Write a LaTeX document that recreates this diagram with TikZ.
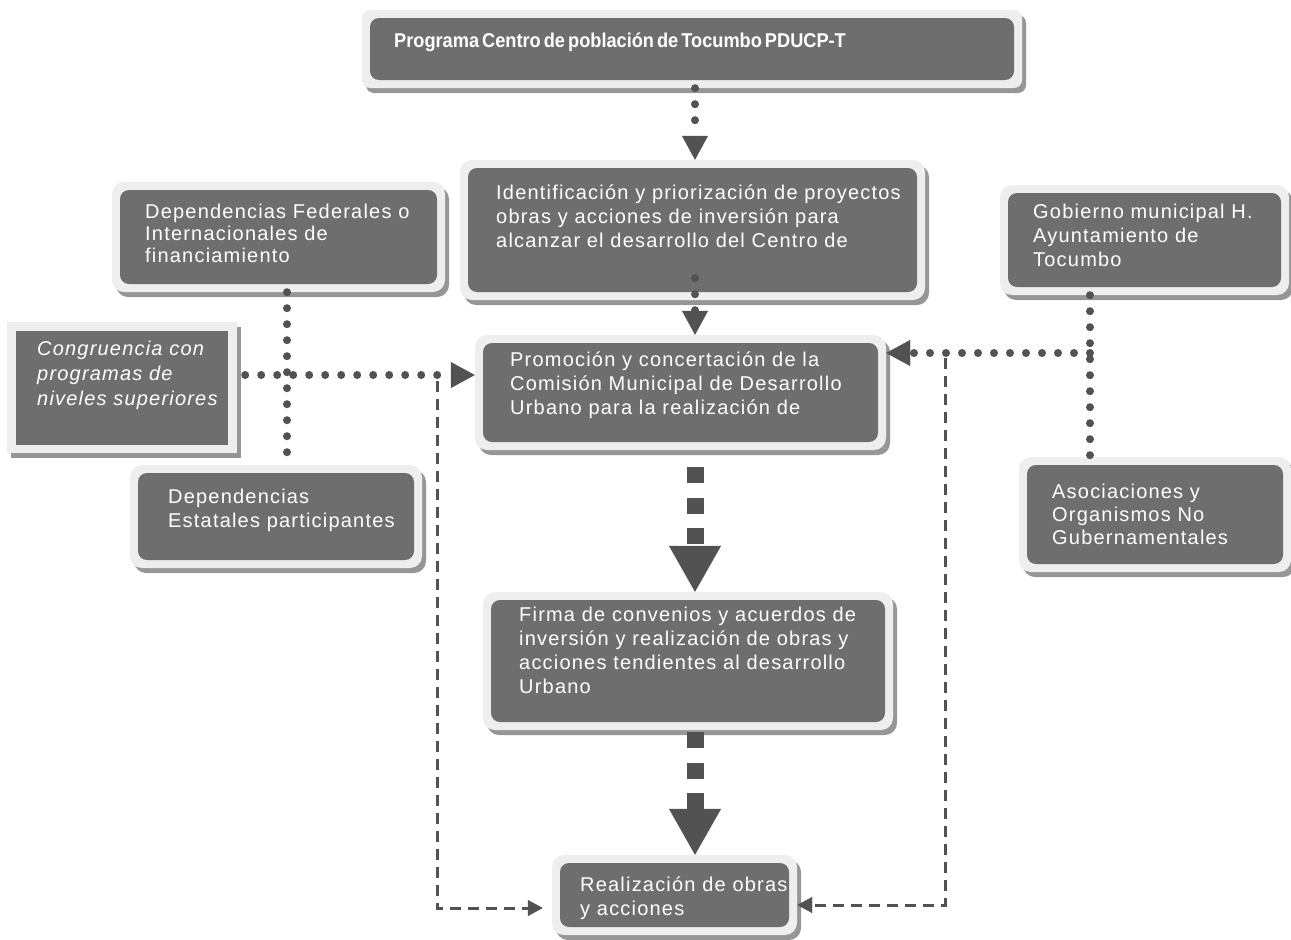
\documentclass[tikz,border=0pt]{standalone}
\usepackage{fontspec}
\setmainfont{Liberation Sans}
\newfontfamily\boxfont{Liberation Sans}[LetterSpace=6]
\newfontfamily\titlefont{Liberation Sans}[WordSpace=0.6,FakeStretch=0.91]
\usetikzlibrary{arrows.meta,calc,shadows}
\definecolor{boxgrey}{RGB}{110,110,110}
\definecolor{rimgrey}{RGB}{238,238,238}
\definecolor{linkgrey}{RGB}{82,82,82}
\definecolor{shadowgrey}{RGB}{150,150,150}
\tikzset{
  darkbox/.style={fill=rimgrey,rounded corners=12pt,inner sep=0pt,
    drop shadow={shadow xshift=4pt,shadow yshift=-5pt,fill=shadowgrey,
      opacity=1},
    path picture={\fill[boxgrey,rounded corners=9pt]
      ([shift={(8pt,-8pt)}]path picture bounding box.north west) rectangle
      ([shift={(-8pt,8pt)}]path picture bounding box.south east);}},
  flatbox/.style={fill=rimgrey,inner sep=0pt,
    drop shadow={shadow xshift=4pt,shadow yshift=-5pt,fill=shadowgrey,
      opacity=1},
    path picture={\fill[boxgrey]
      ([shift={(9pt,-9pt)}]path picture bounding box.north west) rectangle
      ([shift={(-9pt,8pt)}]path picture bounding box.south east);}},
  boxtext/.style={text=white,align=left,anchor=north west,inner sep=0pt,
    font=\boxfont\fontsize{20}{24}\selectfont},
  titletext/.style={text=white,anchor=north west,inner sep=0pt,
    font=\titlefont\bfseries\fontsize{20}{24}\selectfont},
  dotlink/.style={draw=linkgrey,line width=8pt,line cap=round,
    dash pattern=on 0pt off 16pt},
  dotflow/.style={dotlink,
    -{Triangle[length=24pt,width=26pt,line width=0.4pt]}},
  blockflow/.style={draw=linkgrey,line width=17pt,
    dash pattern=on 16pt off 14.5pt,
    -{Triangle[length=46pt,width=52pt,line width=0.4pt]}},
  dashflow/.style={draw=linkgrey,line width=3pt,dash pattern=on 11pt off 7pt,
    -{Triangle[length=15pt,width=16pt,line width=0.4pt]}}
}

\begin{document}
\begin{tikzpicture}[x=1pt,y=-1pt]
  \useasboundingbox (0,0) rectangle (1291,940);
  % boxes
  \node[darkbox,rounded corners=8pt,minimum width=660pt,minimum height=78pt]
    (prog) at (692,49) {};
  \node[darkbox,minimum width=465pt,minimum height=140pt]
    (ident) at (692.5,230) {};
  \node[darkbox,minimum width=333pt,minimum height=110pt]
    (fed) at (278.5,237) {};
  \node[darkbox,minimum width=289pt,minimum height=110pt]
    (gob) at (1144.5,240) {};
  \node[flatbox,minimum width=230pt,minimum height=131pt]
    (cong) at (122,387.5) {};
  \node[darkbox,minimum width=411pt,minimum height=115pt]
    (prom) at (680.5,392.5) {};
  \node[darkbox,minimum width=292pt,minimum height=103pt]
    (est) at (276,516.5) {};
  \node[darkbox,minimum width=272pt,minimum height=115pt]
    (asoc) at (1155,514.5) {};
  \node[darkbox,minimum width=410pt,minimum height=138pt]
    (firma) at (688,661) {};
  \node[darkbox,minimum width=245pt,minimum height=80pt]
    (real) at (674.5,895) {};
  % texts
  \node[titletext] (prog-t) at (394,33)
    {Programa Centro de población de Tocumbo PDUCP-T};
  \node[boxtext] (ident-t) at (496,185)
    {Identificación y priorización de proyectos\\
     obras y acciones de inversión para\\
     alcanzar el desarrollo del Centro de};
  \node[boxtext,font=\boxfont\fontsize{20}{22}\selectfont] (fed-t) at (145,204)
    {Dependencias Federales o\\Internacionales de\\financiamiento};
  \node[boxtext] (gob-t) at (1033,204)
    {Gobierno municipal H.\\Ayuntamiento de\\Tocumbo};
  \node[boxtext,font=\boxfont\itshape\fontsize{20}{25}\selectfont] (cong-t)
    at (37,341) {Congruencia con\\programas de\\niveles superiores};
  \node[boxtext] (prom-t) at (510,352)
    {Promoción y concertación de la\\Comisión Municipal de Desarrollo\\
     Urbano para la realización de};
  \node[boxtext] (est-t) at (168,489)
    {Dependencias\\Estatales participantes};
  \node[boxtext,font=\boxfont\fontsize{20}{23}\selectfont] (asoc-t)
    at (1052,484) {Asociaciones y\\Organismos No\\Gubernamentales};
  \node[boxtext] (firma-t) at (519,607)
    {Firma de convenios y acuerdos de\\
     inversión y realización de obras y\\
     acciones tendientes al desarrollo\\Urbano};
  \node[boxtext] (real-t) at (580,877)
    {Realización de obras\\y acciones};
  % helper coordinates
  \coordinate (axis) at (695,0);
  \coordinate (fedline) at (287,0);
  \coordinate (gobline) at (1090,0);
  \coordinate (congrow) at (0,375);
  \coordinate (gobjoin) at (1090,353);
  \coordinate (leftdrop) at (437,381);
  \coordinate (leftfoot) at (0,908);
  \coordinate (rightdrop) at (945,358);
  \coordinate (rightfoot) at (0,905);
  % connectors
  \draw[dotflow] (prog.south -| axis) -- (ident.north -| axis);
  \draw[dotflow,shorten <=-22pt] (ident.south -| axis) -- (prom.north -| axis);
  \draw[blockflow,shorten <=17pt] (prom.south -| axis) -- (firma.north -| axis);
  \draw[blockflow,shorten <=2pt] (firma.south -| axis) -- (real.north -| axis);
  \draw[dotlink] (fed.south -| fedline) -- (est.north -| fedline);
  \draw[dotflow,shorten <=8pt] (cong.east |- congrow) -- (prom.west |- congrow);
  \draw[dotlink] (gob.south -| gobline) -- (asoc.north -| gobline);
  \draw[dotflow] (gobjoin) -- (prom.east |- gobjoin);
  \draw[dashflow,shorten >=9pt] (leftdrop) |- (real.west |- leftfoot);
  \draw[dashflow] (rightdrop) |- (real.east |- rightfoot);
\end{tikzpicture}
\end{document}
